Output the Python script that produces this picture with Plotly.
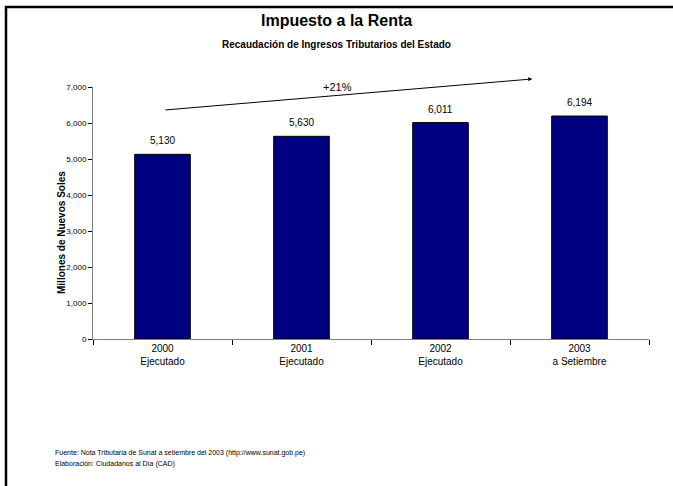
import plotly.graph_objects as go

categories = ["2000<br>Ejecutado", "2001<br>Ejecutado", "2002<br>Ejecutado", "2003<br>a Setiembre"]
values = [5130, 5630, 6011, 6194]
value_labels = ["5,130", "5,630", "6,011", "6,194"]
y_ticks = [0, 1000, 2000, 3000, 4000, 5000, 6000, 7000]
y_tick_labels = ["0", "1,000", "2,000", "3,000", "4,000", "5,000", "6,000", "7,000"]

FONT = "Liberation Sans, Arial, sans-serif"
BLACK = "#000000"

fig = go.Figure()
fig.add_trace(go.Bar(
    x=categories, y=values,
    marker=dict(color="#000080", line=dict(color=BLACK, width=1)),
    width=0.4, hoverinfo="skip",
))

PX_L, PX_R, PX_T, PX_B = 93, 649, 87, 339
W, H = 673, 486

def px(xp):
    return (xp - PX_L) / (PX_R - PX_L)

def py(yp):
    return (PX_B - yp) / (PX_B - PX_T)

fig.update_layout(
    width=W, height=H,
    margin=dict(l=PX_L, r=W - PX_R, t=PX_T, b=H - PX_B),
    paper_bgcolor="white", plot_bgcolor="white",
    showlegend=False,
    font=dict(family=FONT, color=BLACK),
    bargap=0.6,
)
fig.update_xaxes(
    showline=True, linecolor="#808080", linewidth=1,
    ticks="outside", tickson="boundaries", ticklen=5, tickcolor=BLACK,
    tickfont=dict(size=10, family=FONT, color=BLACK),
    showgrid=False,
)
fig.update_yaxes(
    range=[0, 7000], tickvals=y_ticks, ticktext=y_tick_labels,
    showline=True, linecolor="#808080", linewidth=1,
    ticks="outside", ticklen=4, tickcolor=BLACK,
    tickfont=dict(size=8, family=FONT, color=BLACK),
    showgrid=False, zeroline=False,
)

# Value labels above bars
for cat, val, lab in zip(categories, values, value_labels):
    fig.add_annotation(
        x=cat, y=val, xref="x", yref="y", text=lab, showarrow=False,
        yanchor="bottom", yshift=6, font=dict(size=10, family=FONT, color=BLACK),
    )

# Trend arrow
fig.add_annotation(
    x=2.66, y=7223, ax=0.01, ay=6359, xref="x", yref="y", axref="x", ayref="y",
    text="", showarrow=True, arrowhead=2, arrowsize=0.8, arrowwidth=1, arrowcolor=BLACK,
)
fig.add_annotation(
    x=px(337), y=py(87), xref="paper", yref="paper", text="+21%", showarrow=False,
    font=dict(size=11, family=FONT, color=BLACK), xanchor="center", yanchor="middle",
)

# Titles
fig.add_annotation(
    x=px(336), y=py(20), xref="paper", yref="paper", text="<b>Impuesto a la Renta</b>",
    showarrow=False, font=dict(size=16, family=FONT, color=BLACK), xanchor="center", yanchor="middle",
)
fig.add_annotation(
    x=px(336), y=py(45), xref="paper", yref="paper",
    text="<b>Recaudación de Ingresos Tributarios del Estado</b>",
    showarrow=False, font=dict(size=10, family=FONT, color=BLACK), xanchor="center", yanchor="middle",
)
fig.add_annotation(
    x=px(62), y=py(233), xref="paper", yref="paper", text="<b>Millones de Nuevos Soles</b>",
    textangle=-90, showarrow=False, font=dict(size=10, family=FONT, color=BLACK),
    xanchor="center", yanchor="middle",
)

# Footer
fig.add_annotation(
    x=px(53), y=py(453), xref="paper", yref="paper",
    text="Fuente: Nota Tributaria de Sunat a setiembre del 2003 (http://www.sunat.gob.pe)",
    showarrow=False, font=dict(size=7, family=FONT, color=BLACK), xanchor="left", yanchor="middle",
)
fig.add_annotation(
    x=px(53), y=py(464), xref="paper", yref="paper",
    text="Elaboración: Ciudadanos al Día (CAD)",
    showarrow=False, font=dict(size=7, family=FONT, color=BLACK), xanchor="left", yanchor="middle",
)

# Frame border
fig.add_shape(
    type="rect", xref="paper", yref="paper",
    x0=px(6), x1=px(690), y0=py(500), y1=py(7),
    line=dict(color=BLACK, width=2.5), fillcolor="rgba(0,0,0,0)", layer="above",
)

fig.write_html(
    "out.html",
    config={"displayModeBar": False},
    post_script="document.body.style.margin='0';",
)
